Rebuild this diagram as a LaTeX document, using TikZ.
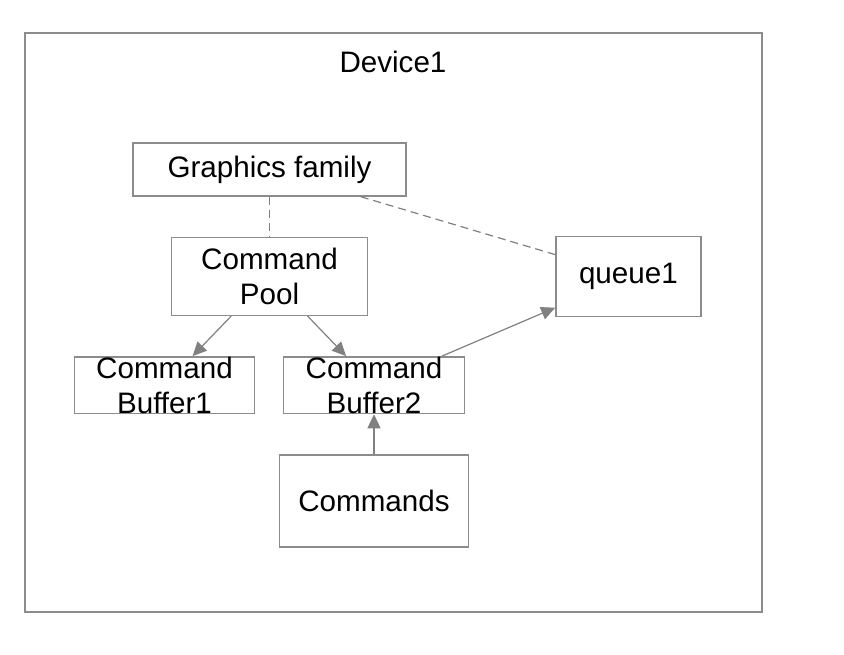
\documentclass[tikz,border=0pt]{standalone}
\usepackage{fontspec}
\setmainfont{Liberation Sans}
\usetikzlibrary{arrows.meta, positioning}

\begin{document}
\begin{tikzpicture}[
    font=\fontsize{14.8pt}{17.5pt}\selectfont,
    box/.style={rectangle, draw=black!45, line width=0.7pt, align=center, inner sep=0pt},
    arrow/.style={-{Triangle[length=7pt,width=6.5pt]}, draw=black!50, line width=0.6pt},
    link/.style={draw=black!50, line width=0.6pt, dash pattern=on 4pt off 2.5pt}
]
\useasboundingbox (0,0) rectangle (422pt,-327pt);

% Device frame
\draw [draw=black!45, line width=0.7pt] (12.5pt,-16.5pt) rectangle (381pt,-306pt);
\node (device) at (196.5pt,-31pt) {Device1};

% Nodes
\node [box, minimum width=136.5pt, minimum height=26.5pt] (family) at (134.75pt,-84.75pt) {Graphics family};
\node [box, minimum width=98pt, minimum height=39pt, below=20pt of family] (pool) {Command\\Pool};
\node [box, minimum width=72.5pt, minimum height=40pt, right=93.5pt of pool] (queue) {queue1};
\node [box, minimum width=90pt, minimum height=27pt, below=20pt of pool, xshift=-52.5pt] (buffer1) {Command\\Buffer1};
\node [box, minimum width=90.5pt, minimum height=27pt, below=20pt of pool, xshift=52.25pt] (buffer2) {Command\\Buffer2};
\node [box, minimum width=94.5pt, minimum height=46pt, below=20pt of buffer2] (commands) {Commands};

% Links
\draw [link] (family) -- (pool);
\draw [link] (family) -- (queue);
\draw [arrow] (pool) -- (buffer1);
\draw [arrow] (pool) -- (buffer2);
\draw [arrow] (buffer2) -- (queue);
\draw [arrow] (commands) -- (buffer2);

\end{tikzpicture}
\end{document}
